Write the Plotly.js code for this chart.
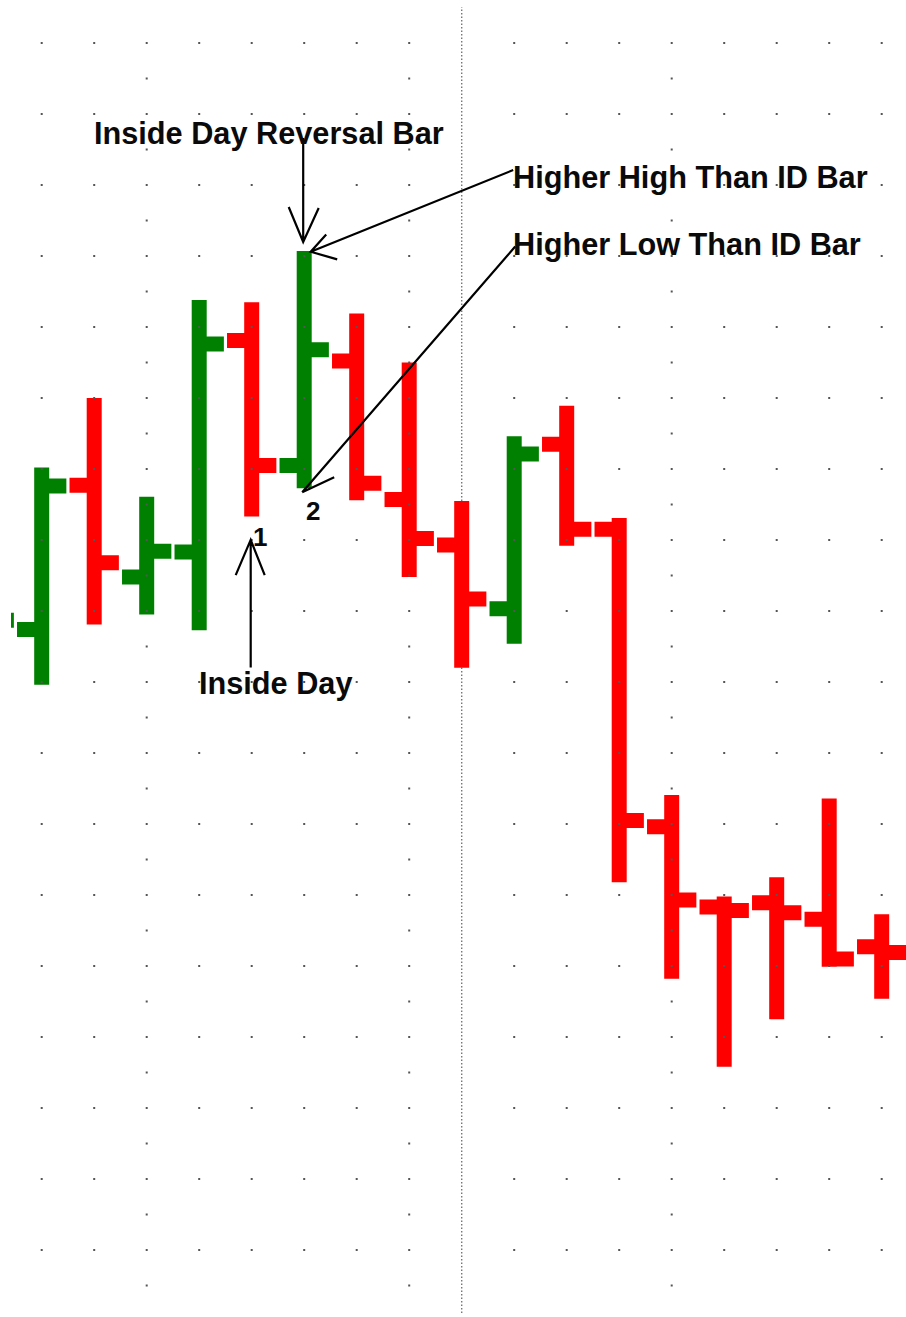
<!DOCTYPE html>
<html>
<head>
<meta charset="utf-8">
<script src="https://cdn.plot.ly/plotly-3.0.1.min.js"></script>
<style>
  html, body { margin: 0; padding: 0; background: #ffffff; }
  #chart { width: 906px; height: 1317px; }
</style>
</head>
<body>
<div id="chart"></div>
<script>
// ---- Data (price in chart grid units) ----
const days  = [-1, 0, 1, 2, 3, 4, 5, 6, 7, 8, 9, 10, 11, 12, 13, 14, 15, 16];
const open  = [8.40, 8.74, 10.77, 9.48, 9.83, 12.81, 11.05, 12.52, 10.57, 9.93, 9.03, 11.35, 10.15, 5.96, 4.83, 4.89, 4.66, 4.27];
const high  = [9.30, 11.02, 12.00, 10.61, 13.38, 13.35, 14.07, 13.19, 12.50, 10.55, 11.46, 11.89, 10.31, 6.41, 4.98, 5.25, 6.36, 4.73];
const low   = [7.90, 7.96, 8.81, 8.95, 8.73, 10.33, 10.73, 10.56, 9.48, 8.20, 8.54, 9.92, 5.18, 3.82, 2.58, 3.25, 3.99, 3.54];
const close = [8.87, 10.76, 9.68, 9.84, 12.76, 11.05, 12.68, 10.80, 10.02, 9.17, 11.21, 10.15, 6.05, 4.93, 4.78, 4.75, 4.10, 4.19];

const insideDayIdx = 4;   // inside day bar
const reversalIdx  = 5;   // inside day reversal bar

const labelText = {
  reversal: 'Inside Day Reversal Bar',
  higherHigh: 'Higher High Than ID Bar',
  higherLow: 'Higher Low Than ID Bar',
  insideDay: 'Inside Day',
  one: '1',
  two: '2'
};

// ---- Helpers ----
function idx(day) { return days.indexOf(day); }

// dotted background grid (decoration)
const gridX = [], gridY = [];
for (let r = 0; r <= 17; r++) {
  for (let c = 0; c <= 16; c++) {
    if (c === 8) continue;
    gridX.push(c); gridY.push(r);
  }
}
for (let r = -1; r <= 16; r++) {
  [2, 7, 12].forEach(c => { gridX.push(c); gridY.push(r + 0.5); });
}

const gridTrace = {
  type: 'scatter', mode: 'markers', x: gridX, y: gridY,
  marker: { symbol: 'square', size: 2, color: '#555555' },
  hoverinfo: 'skip', showlegend: false
};

const ohlcTrace = {
  type: 'ohlc', x: days, open: open, high: high, low: low, close: close,
  tickwidth: 0.47,
  line: { width: 15 },
  increasing: { line: { color: '#008000', width: 15 } },
  decreasing: { line: { color: '#ff0000', width: 15 } },
  showlegend: false, hoverinfo: 'skip'
};

const iD = idx(insideDayIdx), iR = idx(reversalIdx);

function arrowShape(xa, ya, path) {
  return {
    type: 'path', xref: 'x', yref: 'y',
    xsizemode: 'pixel', ysizemode: 'pixel',
    xanchor: xa, yanchor: ya, path: path,
    line: { color: '#000000', width: 2.2 }, layer: 'above'
  };
}

const shapes = [
  { type: 'line', xref: 'x', yref: 'paper', x0: 8, x1: 8, y0: 0, y1: 1,
    line: { color: '#777777', width: 1.4, dash: '1.5px,2px' }, layer: 'below' },
  // reversal bar arrow (down)
  arrowShape(days[iR], high[iR], 'M -1,113 L -1,9 M -15.5,44 L -1,9 L 14.5,43'),
  // higher high arrow
  arrowShape(days[iR], high[iR], 'M 209,81 L 6.5,-0.7 M 22,16.5 L 6.5,-0.7 L 33,-8.3'),
  // higher low arrow
  arrowShape(days[iR], low[iR], 'M 211,241.6 L -2,-4 M 30,11 L -2,-4'),
  // inside day arrow (up)
  arrowShape(days[iD], low[iD], 'M -1,-151 L -1,-23.3 M -16,-58.5 L -1,-23.3 L 13,-58.5')
];

const labelFont = { family: 'Liberation Sans, Arial, sans-serif', size: 30.7, color: '#0a0a0a', weight: 700 };
const numFont = { family: 'Liberation Sans, Arial, sans-serif', size: 26, color: '#0a0a0a', weight: 700 };

const annotations = [
  { text: labelText.reversal, x: 4.33, y: 15.72, xref: 'x', yref: 'y', showarrow: false,
    xanchor: 'center', yanchor: 'middle', font: labelFont },
  { text: labelText.higherHigh, x: 8.93, y: 15.106, xref: 'x', yref: 'y', showarrow: false,
    xanchor: 'left', yanchor: 'middle', font: labelFont },
  { text: labelText.higherLow, x: 8.93, y: 14.155, xref: 'x', yref: 'y', showarrow: false,
    xanchor: 'left', yanchor: 'middle', font: labelFont },
  { text: labelText.insideDay, x: 4.472, y: 7.972, xref: 'x', yref: 'y', showarrow: false,
    xanchor: 'center', yanchor: 'middle', font: labelFont },
  { text: labelText.one, x: days[iD], y: low[iD], xref: 'x', yref: 'y', showarrow: false,
    xanchor: 'center', yanchor: 'middle', xshift: 8, yshift: -20, font: numFont },
  { text: labelText.two, x: days[iR], y: low[iR], xref: 'x', yref: 'y', showarrow: false,
    xanchor: 'center', yanchor: 'middle', xshift: 9, yshift: -23, font: numFont }
];

const layout = {
  width: 906, height: 1317,
  margin: { l: 11, r: 0, t: 7, b: 4, pad: 0 },
  paper_bgcolor: '#ffffff', plot_bgcolor: '#ffffff',
  showlegend: false,
  xaxis: { range: [-0.58476, 16.4629], visible: false, showgrid: false, zeroline: false,
           rangeslider: { visible: false }, fixedrange: true },
  yaxis: { range: [-0.8873, 17.5070], visible: false, showgrid: false, zeroline: false, fixedrange: true },
  shapes: shapes,
  annotations: annotations
};

Plotly.newPlot('chart', [gridTrace, ohlcTrace], layout, { staticPlot: true, displayModeBar: false });
</script>
</body>
</html>
